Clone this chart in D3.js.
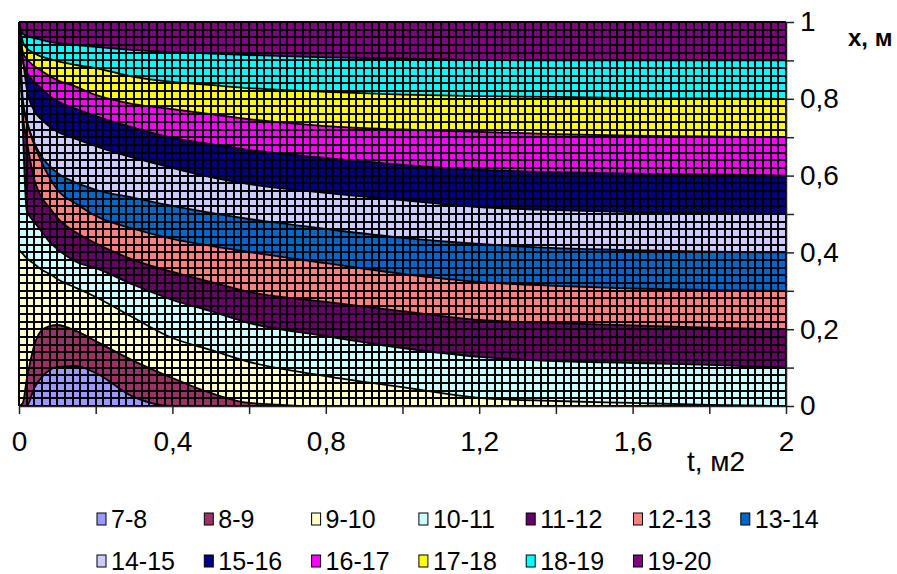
<!DOCTYPE html>
<html>
<head>
<meta charset="utf-8">
<script src="https://cdn.jsdelivr.net/npm/d3@7"></script>
<style>
  html, body { margin: 0; padding: 0; background: #fff; overflow: hidden; }
  svg { display: block; }
</style>
</head>
<body>
<svg id="chart" width="897" height="574" viewBox="0 0 897 574"
     font-family="Liberation Sans, Arial, sans-serif"></svg>
<script>
var tValues = [0, 0.01, 0.02, 0.04, 0.06, 0.08, 0.1, 0.15, 0.2, 0.3, 0.4, 0.5, 0.6, 0.8, 1.0, 1.2, 1.4, 1.6, 1.8, 2.0];

// position x (m) of each isoline, one value per tValues entry
var iso8  = [0, 0, 0, 0.047, 0.076, 0.094, 0.102, 0.104, 0.086, 0.023, 0, 0, 0, 0, 0, 0, 0, 0, 0, 0];
var iso9  = [0, 0.008, 0.068, 0.159, 0.198, 0.208, 0.211, 0.195, 0.169, 0.117, 0.073, 0.034, 0.008, 0, 0, 0, 0, 0, 0, 0];
var iso10 = [0.406, 0.396, 0.385, 0.370, 0.354, 0.344, 0.331, 0.307, 0.284, 0.229, 0.177, 0.146, 0.115, 0.078, 0.049, 0.021, 0.013, 0.008, 0.003, 0];
var iso11 = [1, 0.719, 0.510, 0.479, 0.453, 0.427, 0.409, 0.375, 0.359, 0.315, 0.276, 0.247, 0.216, 0.182, 0.151, 0.128, 0.117, 0.112, 0.107, 0.100];
var iso12 = [1, 0.758, 0.693, 0.589, 0.542, 0.516, 0.490, 0.451, 0.424, 0.380, 0.349, 0.323, 0.297, 0.271, 0.247, 0.224, 0.216, 0.210, 0.204, 0.200];
var iso13 = [1, 0.784, 0.740, 0.680, 0.633, 0.594, 0.563, 0.526, 0.495, 0.461, 0.435, 0.417, 0.401, 0.372, 0.344, 0.323, 0.313, 0.306, 0.302, 0.300];
var iso14 = [1, 0.797, 0.745, 0.685, 0.648, 0.625, 0.607, 0.581, 0.563, 0.542, 0.521, 0.503, 0.487, 0.461, 0.438, 0.422, 0.411, 0.406, 0.402, 0.400];
var iso15 = [1, 0.906, 0.828, 0.768, 0.745, 0.727, 0.714, 0.695, 0.677, 0.646, 0.620, 0.596, 0.578, 0.555, 0.536, 0.518, 0.510, 0.505, 0.503, 0.500];
var iso16 = [1, 0.896, 0.870, 0.844, 0.826, 0.807, 0.794, 0.773, 0.755, 0.724, 0.698, 0.682, 0.667, 0.646, 0.628, 0.615, 0.609, 0.605, 0.603, 0.600];
var iso17 = [1, 0.922, 0.904, 0.885, 0.872, 0.859, 0.849, 0.831, 0.810, 0.786, 0.773, 0.760, 0.747, 0.729, 0.720, 0.714, 0.708, 0.704, 0.702, 0.700];
var iso18 = [1, 0.948, 0.932, 0.919, 0.909, 0.904, 0.898, 0.888, 0.880, 0.857, 0.844, 0.836, 0.828, 0.818, 0.811, 0.807, 0.805, 0.802, 0.801, 0.800];
var iso19 = [1, 0.969, 0.964, 0.958, 0.953, 0.948, 0.945, 0.940, 0.935, 0.927, 0.922, 0.918, 0.914, 0.908, 0.905, 0.901, 0.900, 0.900, 0.900, 0.900];

var isoLines = [iso8, iso9, iso10, iso11, iso12, iso13, iso14, iso15, iso16, iso17, iso18, iso19];

// bands, lowest first
var bandLabels = ['7-8', '8-9', '9-10', '10-11', '11-12', '12-13', '13-14',
                  '14-15', '15-16', '16-17', '17-18', '18-19', '19-20'];
var bandColors = ['#9999FF', '#993366', '#FFFFCC', '#CCFFFF', '#660066', '#FF8080', '#0066CC',
                  '#CCCCFF', '#000080', '#FF00FF', '#FFFF00', '#00FFFF', '#800080'];

var tTicks = [0, 0.2, 0.4, 0.6, 0.8, 1.0, 1.2, 1.4, 1.6, 1.8, 2.0];
var tLabelled = [0, 0.4, 0.8, 1.2, 1.6, 2.0];
var xTicks = [0, 0.1, 0.2, 0.3, 0.4, 0.5, 0.6, 0.7, 0.8, 0.9, 1.0];
var xLabelled = [0, 0.2, 0.4, 0.6, 0.8, 1.0];
var meshStep = 0.02;

var margin = { left: 19, right: 111, top: 22, bottom: 168 };
var svgWidth = 897, svgHeight = 574;
var innerWidth = svgWidth - margin.left - margin.right;     // 767
var innerHeight = svgHeight - margin.top - margin.bottom;   // 384

var svg = d3.select('#chart');
var g = svg.append('g').attr('transform', `translate(${margin.left},${margin.top})`);

var tScale = d3.scaleLinear().domain([0, 2]).range([0, innerWidth]);
var xScale = d3.scaleLinear().domain([0, 1]).range([innerHeight, 0]);

var comma = function (v) { return String(+v.toFixed(1)).replace('.', ','); };

// top band fills the whole plot, then each isoline paints the band below it
g.append('rect')
  .attr('width', innerWidth).attr('height', innerHeight)
  .attr('fill', bandColors[bandColors.length - 1]);

var area = d3.area()
  .x(function (d, i) { return tScale(tValues[i]); })
  .y0(xScale(0))
  .y1(function (d) { return xScale(d); })
  .curve(d3.curveMonotoneX);

var order = d3.range(isoLines.length).reverse();
g.selectAll('path.band')
  .data(order)
  .enter().append('path')
  .attr('class', 'band')
  .attr('d', function (k) { return area(isoLines[k]); })
  .attr('fill', function (k) { return bandColors[k]; });

// wire mesh of the surface
var mesh = g.append('g').attr('shape-rendering', 'crispEdges').attr('stroke', '#000').attr('stroke-width', 2);
mesh.selectAll('line.v')
  .data(d3.range(0, 2 + 1e-9, meshStep))
  .enter().append('line')
  .attr('x1', function (d) { return tScale(d); }).attr('x2', function (d) { return tScale(d); })
  .attr('y1', 0).attr('y2', innerHeight);
mesh.selectAll('line.h')
  .data(d3.range(0, 1 + 1e-9, meshStep))
  .enter().append('line')
  .attr('y1', function (d) { return xScale(d); }).attr('y2', function (d) { return xScale(d); })
  .attr('x1', 0).attr('x2', innerWidth);

// isolines
var line = d3.line()
  .x(function (d, i) { return tScale(tValues[i]); })
  .y(function (d) { return xScale(d); })
  .curve(d3.curveMonotoneX);

g.selectAll('path.iso')
  .data(isoLines)
  .enter().append('path')
  .attr('class', 'iso')
  .attr('d', line)
  .attr('fill', 'none')
  .attr('stroke', '#000')
  .attr('stroke-width', 1.8);

// axes
var yAxis = d3.axisRight(xScale)
  .tickValues(xTicks)
  .tickSize(8).tickSizeOuter(0).tickPadding(6)
  .tickFormat(comma);

var tAxis = d3.axisBottom(tScale)
  .tickValues(tTicks)
  .tickSize(8).tickSizeOuter(0).tickPadding(17)
  .tickFormat(comma);

var ya = g.append('g').attr('transform', `translate(${innerWidth},0)`).call(yAxis);
var ta = g.append('g').attr('transform', `translate(0,${innerHeight})`).call(tAxis);

// only every other tick carries a label
var hasLabel = function (list) {
  return function (d) { return list.some(function (v) { return Math.abs(v - d) < 1e-9; }); };
};
ya.selectAll('.tick').filter(function (d) { return !hasLabel(xLabelled)(d); }).select('text').remove();
ta.selectAll('.tick').filter(function (d) { return !hasLabel(tLabelled)(d); }).select('text').remove();

[ya, ta].forEach(function (a) {
  a.attr('font-size', 28).attr('font-family', null);
  a.select('.domain').attr('stroke', '#222').attr('stroke-width', 1.5);
  a.selectAll('.tick line').attr('stroke', '#222').attr('stroke-width', 1.5);
  a.selectAll('.tick text').attr('fill', '#000');
});

svg.append('text')
  .attr('x', 848).attr('y', 46)
  .attr('font-size', 24).attr('font-weight', 'bold')
  .text('x, м');

svg.append('text')
  .attr('x', 687).attr('y', 471)
  .attr('font-size', 28)
  .text('t, м2');

// legend, two rows
var perRow = 7, colStep = 107.3, legendX = 97, rowY = [519, 561];
var legend = svg.append('g').attr('font-size', 25);
var item = legend.selectAll('g')
  .data(bandLabels)
  .enter().append('g')
  .attr('transform', function (d, i) {
    return `translate(${legendX + (i % perRow) * colStep},${rowY[Math.floor(i / perRow)]})`;
  });
item.append('rect')
  .attr('x', 0).attr('y', -6).attr('width', 9).attr('height', 12)
  .attr('fill', function (d, i) { return bandColors[i]; })
  .attr('stroke', '#000').attr('stroke-width', 1);
item.append('text')
  .attr('x', 14).attr('y', 9)
  .text(function (d) { return d; });
</script>
</body>
</html>
